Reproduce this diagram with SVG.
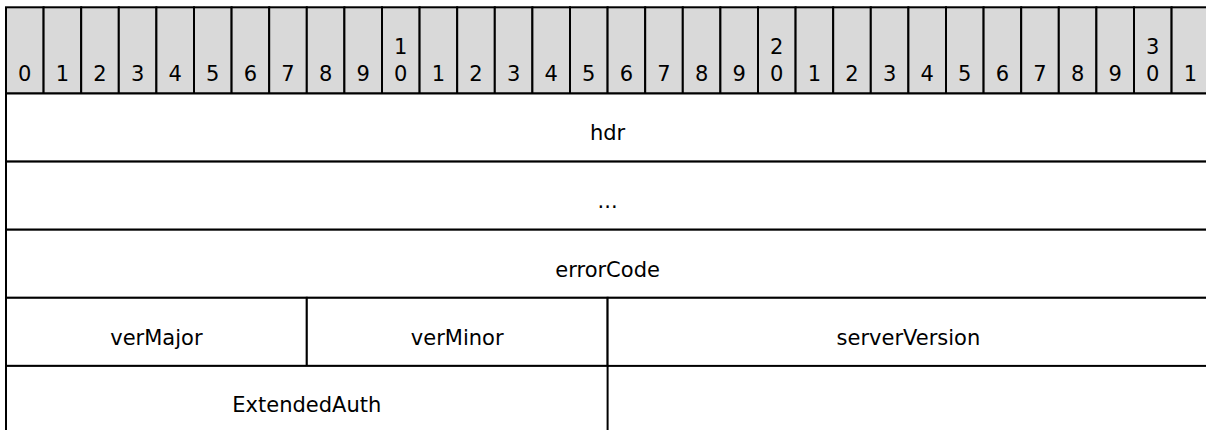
<svg xmlns="http://www.w3.org/2000/svg" width="1206" height="430" viewBox="0 0 1206 430">
<style>
.hd{fill:#d9d9d9;stroke:#000;stroke-width:2}
.cell{fill:#fff;stroke:#000;stroke-width:2}
text{font-family:"DejaVu Sans",Verdana,sans-serif;font-size:21px;fill:#000;text-anchor:middle}
</style>
<rect x="0" y="0" width="1206" height="430" fill="#fff"/>
<g id="header">
<rect class="hd" x="6" y="7.3" width="37.6" height="86.2"/>
<rect class="hd" x="43.6" y="7.3" width="37.6" height="86.2"/>
<rect class="hd" x="81.2" y="7.3" width="37.6" height="86.2"/>
<rect class="hd" x="118.8" y="7.3" width="37.6" height="86.2"/>
<rect class="hd" x="156.4" y="7.3" width="37.6" height="86.2"/>
<rect class="hd" x="194" y="7.3" width="37.6" height="86.2"/>
<rect class="hd" x="231.6" y="7.3" width="37.6" height="86.2"/>
<rect class="hd" x="269.2" y="7.3" width="37.6" height="86.2"/>
<rect class="hd" x="306.8" y="7.3" width="37.6" height="86.2"/>
<rect class="hd" x="344.4" y="7.3" width="37.6" height="86.2"/>
<rect class="hd" x="382" y="7.3" width="37.6" height="86.2"/>
<rect class="hd" x="419.6" y="7.3" width="37.6" height="86.2"/>
<rect class="hd" x="457.2" y="7.3" width="37.6" height="86.2"/>
<rect class="hd" x="494.8" y="7.3" width="37.6" height="86.2"/>
<rect class="hd" x="532.4" y="7.3" width="37.6" height="86.2"/>
<rect class="hd" x="570" y="7.3" width="37.6" height="86.2"/>
<rect class="hd" x="607.6" y="7.3" width="37.6" height="86.2"/>
<rect class="hd" x="645.2" y="7.3" width="37.6" height="86.2"/>
<rect class="hd" x="682.8" y="7.3" width="37.6" height="86.2"/>
<rect class="hd" x="720.4" y="7.3" width="37.6" height="86.2"/>
<rect class="hd" x="758" y="7.3" width="37.6" height="86.2"/>
<rect class="hd" x="795.6" y="7.3" width="37.6" height="86.2"/>
<rect class="hd" x="833.2" y="7.3" width="37.6" height="86.2"/>
<rect class="hd" x="870.8" y="7.3" width="37.6" height="86.2"/>
<rect class="hd" x="908.4" y="7.3" width="37.6" height="86.2"/>
<rect class="hd" x="946" y="7.3" width="37.6" height="86.2"/>
<rect class="hd" x="983.6" y="7.3" width="37.6" height="86.2"/>
<rect class="hd" x="1021.2" y="7.3" width="37.6" height="86.2"/>
<rect class="hd" x="1058.8" y="7.3" width="37.6" height="86.2"/>
<rect class="hd" x="1096.4" y="7.3" width="37.6" height="86.2"/>
<rect class="hd" x="1134" y="7.3" width="37.6" height="86.2"/>
<rect class="hd" x="1171.6" y="7.3" width="37.6" height="86.2"/>
<text x="24.8" y="81">0</text>
<text x="62.4" y="81">1</text>
<text x="100" y="81">2</text>
<text x="137.6" y="81">3</text>
<text x="175.2" y="81">4</text>
<text x="212.8" y="81">5</text>
<text x="250.4" y="81">6</text>
<text x="288" y="81">7</text>
<text x="325.6" y="81">8</text>
<text x="363.2" y="81">9</text>
<text x="400.8" y="54">1<tspan x="400.8" y="81">0</tspan></text>
<text x="438.4" y="81">1</text>
<text x="476" y="81">2</text>
<text x="513.6" y="81">3</text>
<text x="551.2" y="81">4</text>
<text x="588.8" y="81">5</text>
<text x="626.4" y="81">6</text>
<text x="664" y="81">7</text>
<text x="701.6" y="81">8</text>
<text x="739.2" y="81">9</text>
<text x="776.8" y="54">2<tspan x="776.8" y="81">0</tspan></text>
<text x="814.4" y="81">1</text>
<text x="852" y="81">2</text>
<text x="889.6" y="81">3</text>
<text x="927.2" y="81">4</text>
<text x="964.8" y="81">5</text>
<text x="1002.4" y="81">6</text>
<text x="1040" y="81">7</text>
<text x="1077.6" y="81">8</text>
<text x="1115.2" y="81">9</text>
<text x="1152.8" y="54">3<tspan x="1152.8" y="81">0</tspan></text>
<text x="1190.4" y="81">1</text>
</g>
<g id="hdr">
<rect class="cell" x="6" y="93.5" width="1203.2" height="68.1"/>
<text x="607.6" y="140">hdr</text>
</g>
<g id="ellipsis">
<rect class="cell" x="6" y="161.6" width="1203.2" height="68.1"/>
<text x="607.6" y="208">...</text>
</g>
<g id="errorCode">
<rect class="cell" x="6" y="229.7" width="1203.2" height="68.1"/>
<text x="607.6" y="276.5">errorCode</text>
</g>
<g id="verMajor">
<rect class="cell" x="6" y="297.8" width="300.8" height="68.1"/>
<text x="156.4" y="344.5">verMajor</text>
</g>
<g id="verMinor">
<rect class="cell" x="306.8" y="297.8" width="300.8" height="68.1"/>
<text x="457.2" y="344.5">verMinor</text>
</g>
<g id="serverVersion">
<rect class="cell" x="607.6" y="297.8" width="601.6" height="68.1"/>
<text x="908.4" y="344.5">serverVersion</text>
</g>
<g id="ExtendedAuth">
<rect class="cell" x="6" y="365.9" width="601.6" height="80"/>
<text x="306.8" y="412">ExtendedAuth</text>
</g>
</svg>
